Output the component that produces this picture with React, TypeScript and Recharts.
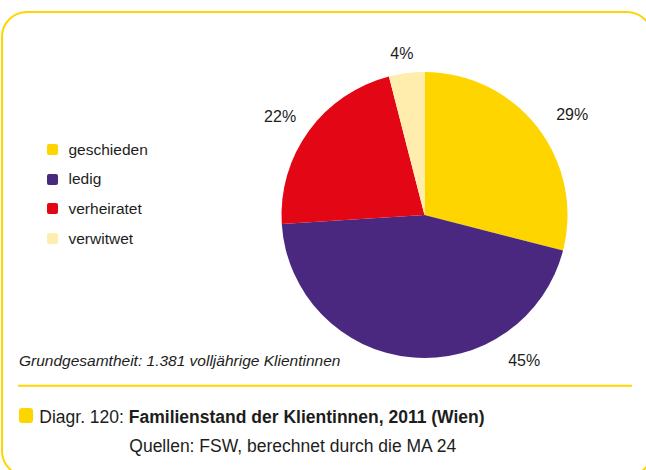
import React from 'react';
import { PieChart, Pie, Cell, Legend } from 'recharts';

const categories = ['geschieden', 'ledig', 'verheiratet', 'verwitwet'];
const shares = [29, 45, 22, 4];
const colors = ['#FFD500', '#4A2880', '#E30614', '#FFEDAE'];

const note = 'Grundgesamtheit: 1.381 volljährige Klientinnen';
const captionPrefix = 'Diagr. 120: ';
const captionTitle = 'Familienstand der Klientinnen, 2011 (Wien)';
const captionSource = 'Quellen: FSW, berechnet durch die MA 24';

const data = categories.map((name, i) => ({ name, value: shares[i] }));

const FONT = "'Liberation Sans', Arial, Helvetica, sans-serif";
const TEXT = '#1d1d1b';

// label placement tweaks relative to the slice middle (degrees, px beyond the rim)
const labelAngleShift = [-3.4, 39.9, 1.6, 0.8];
const labelRadiusExtra = [36, 33, 32, 20];

const renderLabel = (props: any) => {
  const { cx, cy, midAngle, outerRadius, value, index } = props;
  const a = ((midAngle + labelAngleShift[index]) * Math.PI) / 180;
  const r = outerRadius + labelRadiusExtra[index];
  const x = cx + r * Math.cos(a);
  const y = cy - r * Math.sin(a);
  return (
    <text x={x} y={y + 5.7} textAnchor="middle" fontSize={16} fill={TEXT} fontFamily={FONT}>
      {value}%
    </text>
  );
};

const renderLegend = () => (
  <div style={{ fontFamily: FONT }}>
    {categories.map((c, i) => (
      <div key={c} style={{ display: 'flex', alignItems: 'center', height: 29.6 }}>
        <span
          style={{
            display: 'inline-block',
            width: 11,
            height: 11,
            borderRadius: 2,
            background: colors[i],
            marginRight: 10.5,
          }}
        />
        <span style={{ fontSize: 15.5, color: TEXT, lineHeight: 'normal' }}>{c}</span>
      </div>
    ))}
  </div>
);

export default function App() {
  return (
    <div
      style={{
        position: 'absolute',
        left: 0,
        top: 0,
        width: 646,
        height: 470,
        overflow: 'hidden',
        background: '#fff',
      }}
    >
      <div
        style={{
          position: 'absolute',
          left: 1,
          top: 11,
          width: 652,
          height: 466,
          border: '2px solid #FFD500',
          borderRadius: 26,
          boxSizing: 'border-box',
        }}
      />
      <div style={{ position: 'absolute', left: 0, top: 0 }}>
        <PieChart width={646} height={470} margin={{ top: 0, right: 0, bottom: 0, left: 0 }}>
          <Pie
            data={data}
            dataKey="value"
            nameKey="name"
            cx={424.5}
            cy={215}
            outerRadius={143}
            startAngle={90}
            endAngle={-270}
            stroke="none"
            label={renderLabel}
            labelLine={false}
            isAnimationActive={false}
          >
            {data.map((d, i) => (
              <Cell key={d.name} fill={colors[i]} />
            ))}
          </Pie>
          <Legend
            content={renderLegend}
            wrapperStyle={{ left: 47, top: 135, bottom: 'auto', width: 200 }}
          />
        </PieChart>
      </div>
      <svg
        width={646}
        height={470}
        style={{ position: 'absolute', left: 0, top: 0 }}
      >
        <text x={19} y={366} fontSize={15.5} fontStyle="italic" fill={TEXT} fontFamily={FONT}>
          {note}
        </text>
        <line x1={18} x2={632} y1={385.7} y2={385.7} stroke="#FFD500" strokeWidth={2} />
        <rect x={19} y={408} width={14} height={15} rx={3} fill="#FFD500" />
        <text x={39.3} y={422.7} fontSize={17.5} fill={TEXT} fontFamily={FONT} xmlSpace="preserve">
          {captionPrefix}
          <tspan fontWeight="bold">{captionTitle}</tspan>
        </text>
        <text x={129.3} y={451.5} fontSize={17.5} fill={TEXT} fontFamily={FONT}>
          {captionSource}
        </text>
      </svg>
    </div>
  );
}
